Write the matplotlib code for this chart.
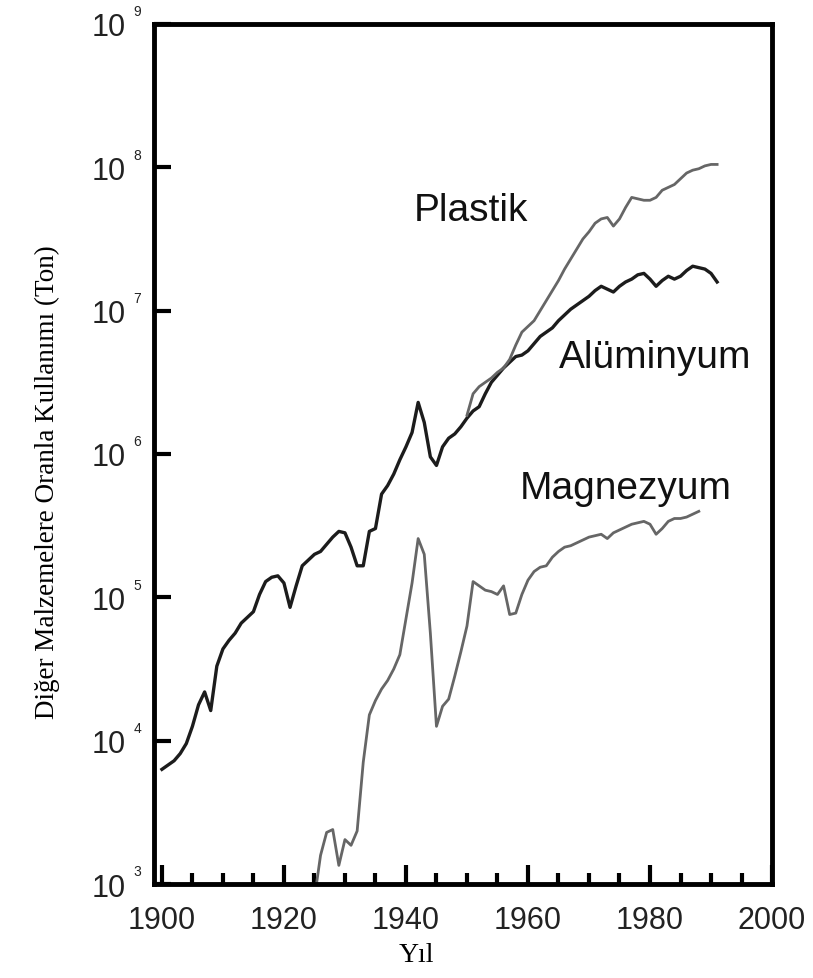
import numpy as np
import matplotlib.pyplot as plt
from matplotlib.ticker import FixedLocator, MultipleLocator, NullLocator, FixedFormatter

# yillik kullanim (ton), log10 degerleri
al_yil = list(range(1900, 1992))
al_log = [3.80, 3.83, 3.86, 3.91, 3.98, 4.10, 4.25, 4.34, 4.21, 4.52,
          4.64, 4.70, 4.75, 4.82, 4.86, 4.90, 5.02, 5.11, 5.14, 5.15,
          5.10, 4.93, 5.08, 5.22, 5.26, 5.30, 5.32, 5.37, 5.42, 5.46,
          5.45, 5.35, 5.22, 5.22, 5.46, 5.48, 5.72, 5.78, 5.86, 5.96,
          6.05, 6.15, 6.36, 6.22, 5.98, 5.92, 6.05, 6.11, 6.14, 6.19,
          6.25, 6.30, 6.33, 6.42, 6.50, 6.55, 6.60, 6.64, 6.68, 6.69,
          6.72, 6.77, 6.82, 6.85, 6.88, 6.93, 6.97, 7.01, 7.04, 7.07,
          7.10, 7.14, 7.17, 7.15, 7.13, 7.17, 7.20, 7.22, 7.25, 7.26,
          7.22, 7.17, 7.21, 7.24, 7.22, 7.24, 7.28, 7.31, 7.30, 7.29,
          7.26, 7.20]

pl_yil = list(range(1950, 1992))
pl_log = [6.27, 6.42, 6.47, 6.50, 6.53, 6.57, 6.60, 6.66, 6.76, 6.85,
          6.89, 6.93, 7.00, 7.07, 7.14, 7.21, 7.29, 7.36, 7.43, 7.50,
          7.55, 7.61, 7.64, 7.65, 7.59, 7.64, 7.72, 7.79, 7.78, 7.77,
          7.77, 7.79, 7.84, 7.86, 7.88, 7.92, 7.96, 7.98, 7.99, 8.01,
          8.02, 8.02]

mg_yil = list(range(1925, 1989))
mg_log = [2.90, 3.20, 3.36, 3.38, 3.13, 3.31, 3.27, 3.37, 3.85, 4.18,
          4.28, 4.36, 4.42, 4.50, 4.60, 4.85, 5.10, 5.41, 5.30, 4.75,
          4.10, 4.24, 4.29, 4.45, 4.62, 4.80, 5.11, 5.08, 5.05, 5.04,
          5.02, 5.08, 4.88, 4.89, 5.02, 5.12, 5.18, 5.21, 5.22, 5.28,
          5.32, 5.35, 5.36, 5.38, 5.40, 5.42, 5.43, 5.44, 5.41, 5.45,
          5.47, 5.49, 5.51, 5.52, 5.53, 5.51, 5.44, 5.48, 5.53, 5.55,
          5.55, 5.56, 5.58, 5.60]

y_us = [3, 4, 5, 6, 7, 8, 9]

plt.rcParams['font.family'] = 'Liberation Sans'

fig = plt.figure(figsize=(8.13, 9.79), dpi=100)
ax = fig.add_axes([0.1894, 0.0960, 0.7602, 0.8785])

ax.plot(al_yil, 10 ** np.array(al_log), color='#1c1c1c', lw=2.4, solid_joinstyle='round')
ax.plot(pl_yil, 10 ** np.array(pl_log), color='#666666', lw=2.0, solid_joinstyle='round')
ax.plot(mg_yil, 10 ** np.array(mg_log), color='#666666', lw=2.0, solid_joinstyle='round')

ax.set_yscale('log')
ax.set_xlim(1898.7, 2000)
ax.set_ylim(1e3, 1e9)

for s in ax.spines.values():
    s.set_linewidth(3.5)

# x eksen: 20 yilda bir etiket, 5 yilda bir kucuk cizgi
ax.xaxis.set_major_locator(MultipleLocator(20))
ax.xaxis.set_minor_locator(MultipleLocator(5))
ax.tick_params(axis='x', which='major', direction='in', length=14, width=3,
               labelsize=22, pad=15, top=False, labelcolor='#222222')
ax.tick_params(axis='x', which='minor', direction='in', length=8, width=3, top=False)

# y eksen: sadece onun kuvvetleri
ax.yaxis.set_major_locator(FixedLocator([10.0 ** u for u in y_us]))
ax.yaxis.set_minor_locator(NullLocator())
ax.yaxis.set_major_formatter(FixedFormatter(['10'] * len(y_us)))
ax.tick_params(axis='y', which='major', direction='in', length=12, width=3,
               labelsize=22, pad=20, right=False, labelcolor='#222222')
for u in y_us:
    ax.annotate(str(u), xy=(0, 10.0 ** u), xycoords=('axes fraction', 'data'),
                xytext=(-15, 4), textcoords='offset points', fontsize=10,
                ha='left', va='bottom', color='#222222')

ax.text(1950.6, 10 ** 7.70, 'Plastik', fontsize=28, ha='center', va='center', color='#111111')
ax.text(1980.8, 10 ** 6.68, 'Alüminyum', fontsize=28, ha='center', va='center', color='#111111')
ax.text(1976.0, 10 ** 5.76, 'Magnezyum', fontsize=28, ha='center', va='center', color='#111111')

ax.set_ylabel('Diğer Malzemelere Oranla Kullanımı (Ton)', family='Liberation Serif', fontsize=19.5)
ax.yaxis.set_label_coords(-0.152, 0.469)
ax.set_xlabel('Yıl', family='Liberation Serif', fontsize=20)
ax.xaxis.set_label_coords(0.425, -0.068)

fig.savefig('out.png', dpi=100)
